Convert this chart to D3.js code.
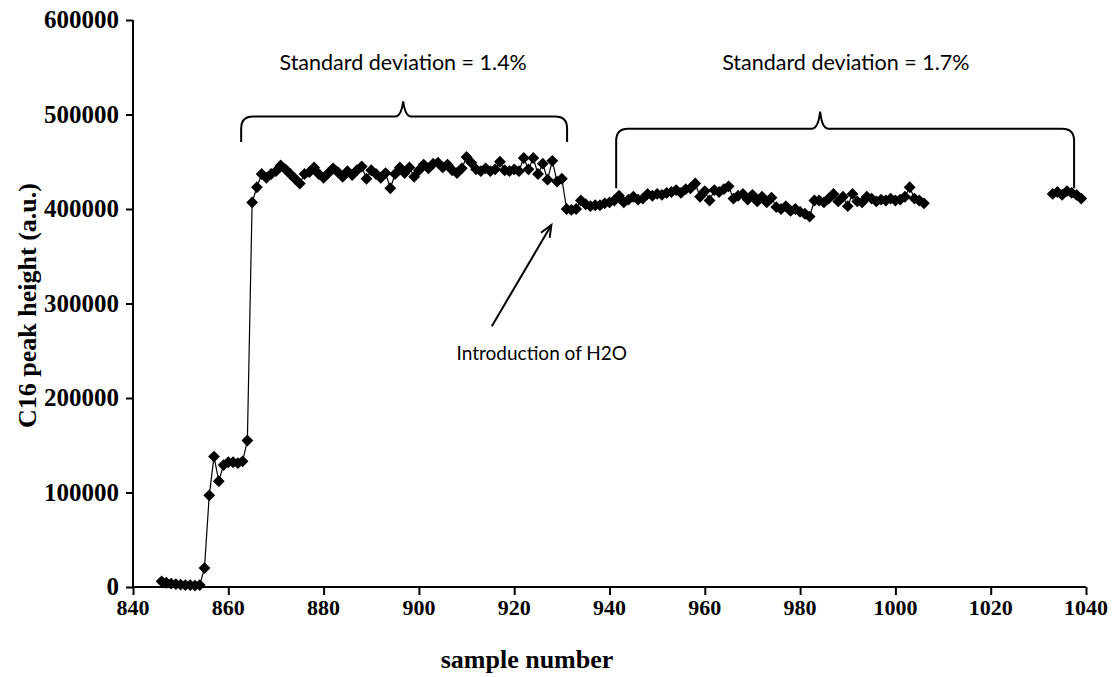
<!DOCTYPE html>
<html>
<head>
<meta charset="utf-8">
<script src="https://cdn.jsdelivr.net/npm/d3@7"></script>
<style>
  html, body { margin: 0; padding: 0; background: #fff; }
  svg { display: block; }
  .tick-label { font-family: "Liberation Serif", "Times New Roman", serif; font-weight: bold; fill: #000; }
  .axis-title { font-family: "Liberation Serif", "Times New Roman", serif; font-weight: bold; font-size: 26px; fill: #000; }
  .note { font-family: Lato, "Open Sans", sans-serif; fill: #000; }
</style>
</head>
<body>
<svg id="chart" width="1116" height="677"></svg>
<script>
// C16 peak height for consecutive sample numbers, first run (846 - 1006)
const runAStart = 846;
const runAValues = [
  6000, 4500, 3500, 3000, 2500, 2000, 2000, 1500, 2000, 20000,
  97000, 138000, 112000, 129000, 132000, 132000, 131000, 133000, 155000, 407000,
  423000, 437000, 433000, 437000, 440000, 446000, 442000, 437000, 432000, 427000,
  437000, 439000, 444000, 437000, 433000, 438000, 443000, 439000, 434000, 440000,
  436000, 441000, 445000, 432000, 441000, 437000, 433000, 438000, 422000, 437000,
  444000, 438000, 444000, 434000, 441000, 447000, 443000, 448000, 449000, 444000,
  447000, 441000, 438000, 443000, 455000, 449000, 442000, 440000, 443000, 440000,
  442000, 450000, 441000, 440000, 442000, 440000, 454000, 442000, 454000, 437000,
  448000, 431000, 451000, 429000, 432000, 400000, 399000, 400000, 409000, 405000,
  403000, 404000, 404000, 406000, 407000, 409000, 414000, 407000, 410000, 413000,
  410000, 411000, 416000, 414000, 416000, 415000, 417000, 418000, 420000, 417000,
  421000, 422000, 427000, 413000, 419000, 409000, 420000, 418000, 421000, 424000,
  411000, 414000, 416000, 410000, 415000, 408000, 413000, 407000, 412000, 402000,
  400000, 403000, 398000, 400000, 397000, 395000, 392000, 409000, 409000, 407000,
  411000, 416000, 408000, 413000, 403000, 416000, 408000, 407000, 413000, 411000,
  408000, 410000, 409000, 411000, 409000, 410000, 413000, 423000, 411000, 409000,
  406000
];

// second run (1033 - 1039)
const runBStart = 1033;
const runBValues = [416000, 418000, 415000, 419000, 417000, 415000, 411000];

const xTicks = [840, 860, 880, 900, 920, 940, 960, 980, 1000, 1020, 1040];
const yTicks = [0, 100000, 200000, 300000, 400000, 500000, 600000];

// annotation braces: [start sample, peak sample, end sample, end value, bar value, peak value]
const braceA = [862.7, 896.7, 931.1, 471000, 498000, 514000];
const braceB = [941.4, 984.2, 1037.5, 422000, 485000, 503000];
const noteA = { text: "Standard deviation = 1.4%", sample: 896.7, value: 547000, size: 21.5 };
const noteB = { text: "Standard deviation = 1.7%", sample: 989.6, value: 547000, size: 21.5 };
const noteH2O = { text: "Introduction of H2O", sample: 925.8, value: 240000, size: 19 };
// arrow from [sample, value] to [sample, value]
const arrowH2O = [[915.3, 276000], [927.8, 383000]];

const svg = d3.select("#chart");
const x = d3.scaleLinear().domain([840, 1040]).range([133, 1086]);
const y = d3.scaleLinear().domain([0, 600000]).range([587, 20]);

// series points with a break between the two runs
const runA = runAValues.map((v, i) => ({ s: runAStart + i, v }));
const runB = runBValues.map((v, i) => ({ s: runBStart + i, v }));
const all = runA.concat([{ s: null, v: null }], runB);

const line = d3.line()
  .defined(d => d.v !== null)
  .x(d => x(d.s))
  .y(d => y(d.v));

svg.append("path")
  .attr("d", line(all))
  .attr("fill", "none")
  .attr("stroke", "#000")
  .attr("stroke-width", 1.2);

const diamond = d3.symbol().type(d3.symbolSquare).size(70);
svg.append("g").selectAll("path")
  .data(runA.concat(runB))
  .join("path")
  .attr("d", diamond)
  .attr("transform", d => `translate(${x(d.s)},${y(d.v)}) rotate(45)`)
  .attr("fill", "#000");

// axes
const xAxis = svg.append("g").attr("transform", `translate(0,${y(0)})`)
  .call(d3.axisBottom(x).tickValues(xTicks).tickSize(8).tickFormat(""));
const yAxis = svg.append("g").attr("transform", `translate(${x(840)},0)`)
  .call(d3.axisLeft(y).tickValues(yTicks).tickSize(7).tickFormat(""));
[xAxis, yAxis].forEach(g => {
  g.select(".domain").attr("stroke", "#000").attr("stroke-width", 2);
  g.selectAll(".tick line").attr("stroke", "#000").attr("stroke-width", 2);
});
xAxis.select(".domain").attr("d", `M${x(840)},0H${x(1040)}`);
yAxis.select(".domain").attr("d", `M0,${y(0)}V${y(600000)}`);

svg.append("g").selectAll("text")
  .data(xTicks)
  .join("text")
  .attr("class", "tick-label")
  .style("font-size", "22px")
  .attr("x", d => x(d))
  .attr("y", y(0) + 28)
  .attr("text-anchor", "middle")
  .text(d => d);

svg.append("g").selectAll("text")
  .data(yTicks)
  .join("text")
  .attr("class", "tick-label")
  .style("font-size", "25px")
  .attr("x", x(840) - 14)
  .attr("y", d => y(d) + 8)
  .attr("text-anchor", "end")
  .text(d => d);

svg.append("text")
  .attr("class", "axis-title")
  .attr("x", 527)
  .attr("y", 668)
  .attr("text-anchor", "middle")
  .text("sample number");

svg.append("text")
  .attr("class", "axis-title")
  .attr("transform", `translate(36,${y(300000) + 2}) rotate(-90)`)
  .attr("text-anchor", "middle")
  .text("C16 peak height (a.u.)");

// curly braces above the two plateaus
function bracePath(b) {
  const [s0, sp, s1, vEnd, vBar, vPeak] = b;
  const x0 = x(s0), xp = x(sp), x1 = x(s1);
  const yE = y(vEnd), yB = y(vBar), yP = y(vPeak);
  const r = 12;
  return `M${x0},${yE} L${x0},${yB + r} Q${x0},${yB} ${x0 + r},${yB}` +
    ` L${xp - 8},${yB} Q${xp - 2},${yB} ${xp},${yP}` +
    ` Q${xp + 2},${yB} ${xp + 8},${yB}` +
    ` L${x1 - r},${yB} Q${x1},${yB} ${x1},${yB + r} L${x1},${yE}`;
}
svg.append("g").selectAll("path")
  .data([braceA, braceB])
  .join("path")
  .attr("d", bracePath)
  .attr("fill", "none")
  .attr("stroke", "#000")
  .attr("stroke-width", 2);

svg.append("g").selectAll("text")
  .data([noteA, noteB, noteH2O])
  .join("text")
  .attr("class", "note")
  .style("font-size", d => d.size + "px")
  .attr("x", d => x(d.sample))
  .attr("y", d => y(d.value))
  .attr("text-anchor", "middle")
  .text(d => d.text);

// arrow pointing at the water introduction
const [a0, a1] = arrowH2O.map(p => [x(p[0]), y(p[1])]);
svg.append("line")
  .attr("x1", a0[0]).attr("y1", a0[1])
  .attr("x2", a1[0]).attr("y2", a1[1])
  .attr("stroke", "#000").attr("stroke-width", 2);
const ang = Math.atan2(a1[1] - a0[1], a1[0] - a0[0]);
const head = 13, spread = 0.4;
const h1 = [a1[0] - head * Math.cos(ang - spread), a1[1] - head * Math.sin(ang - spread)];
const h2 = [a1[0] - head * Math.cos(ang + spread), a1[1] - head * Math.sin(ang + spread)];
svg.append("path")
  .attr("d", `M${h1[0]},${h1[1]} L${a1[0]},${a1[1]} L${h2[0]},${h2[1]}`)
  .attr("fill", "none")
  .attr("stroke", "#000")
  .attr("stroke-width", 2);
</script>
</body>
</html>
